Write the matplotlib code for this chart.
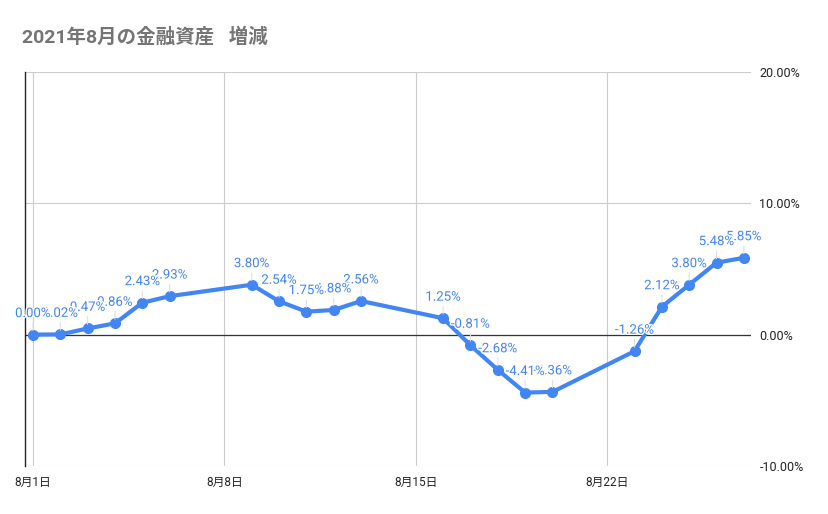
import matplotlib.pyplot as plt
import matplotlib.patheffects as pe
import numpy as np
import datetime as dt

plt.rcParams['font.family'] = ['Roboto', 'Noto Sans CJK JP', 'DejaVu Sans']

days = [1, 2, 3, 4, 5, 6, 9, 10, 11, 12, 13, 16, 17, 18, 19, 20, 23, 24, 25, 26, 27]
values = [0.00, 0.02, 0.47, 0.86, 2.43, 2.93, 3.80, 2.54, 1.75, 1.88, 2.56,
          1.25, -0.81, -2.68, -4.41, -4.36, -1.26, 2.12, 3.80, 5.48, 5.85]
tick_days = [1, 8, 15, 22]
tick_labels = ['8月1日', '8月8日', '8月15日', '8月22日']
y_ticks = [-10, 0, 10, 20]

dates = [dt.date(2021, 8, d) for d in days]
blue = '#4285F4'

fig = plt.figure(figsize=(8.29, 5.14), dpi=100)
ax = fig.add_axes([0.0302, 0.0934, 0.8757, 0.7666])

ax.plot(dates, values, color=blue, lw=3, marker='o', ms=7, zorder=3,
        solid_capstyle='round', solid_joinstyle='round')

# data labels with thin leader lines; earlier labels sit on top, as in sheets
n = len(values)
for i, (d, v) in enumerate(zip(dates, values)):
    ax.annotate(f'{v:.2f}%', xy=(d, v), xytext=(0, 10.5), textcoords='offset points',
                ha='center', va='bottom', color=blue, fontsize=9.5, zorder=4 + (n - i) * 0.01,
                path_effects=[pe.withStroke(linewidth=2, foreground='white')],
                arrowprops=dict(arrowstyle='-', color='#e0e0e0', lw=0.8,
                                shrinkA=0, shrinkB=3))

x0 = dt.datetime(2021, 8, 1) - dt.timedelta(days=0.29)
x1 = dt.datetime(2021, 8, 27) + dt.timedelta(days=0.26)
ax.set_xlim(x0, x1)
ax.set_ylim(-10, 20)

ax.set_xticks([dt.date(2021, 8, d) for d in tick_days])
ax.set_xticklabels(tick_labels, fontsize=8.5)
ax.set_yticks(y_ticks)
ax.set_yticklabels([f'{t:.2f}%' for t in y_ticks], fontsize=9)
ax.yaxis.tick_right()
ax.tick_params(length=0, pad=6, colors='#222222')
ax.tick_params(axis='x', pad=7)

ax.grid(True, color='#cccccc', lw=0.8)
ax.axhline(0, color='#333333', lw=0.9, zorder=2)
for s in ['top', 'right', 'bottom']:
    ax.spines[s].set_visible(False)
ax.spines['left'].set_color('#222222')
ax.spines['left'].set_linewidth(1)

fig.text(0.026, 0.928, '2021年8月の金融資産   増減', fontsize=14, fontweight='bold',
         color='#757575', va='center', ha='left')

fig.savefig('out.png', dpi=100)
